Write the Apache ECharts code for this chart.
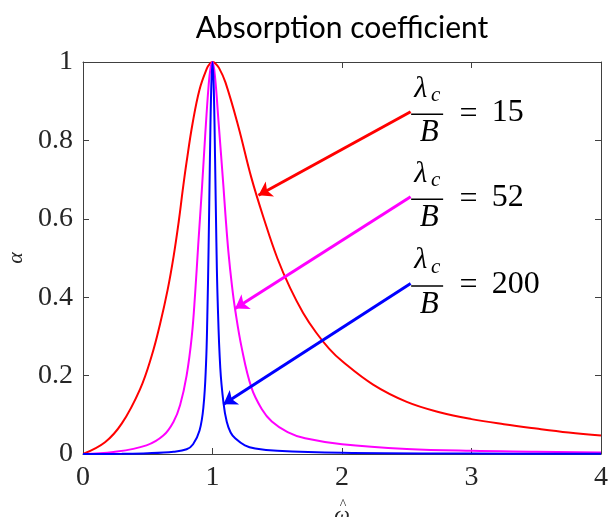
<!DOCTYPE html>
<html>
<head>
<meta charset="utf-8">
<script src="https://cdn.jsdelivr.net/npm/echarts@6/dist/echarts.min.js"></script>
<style>
  html, body { margin: 0; padding: 0; background: #fff; }
  #main { width: 616px; height: 517px; }
</style>
</head>
<body>
<div id="main"></div>
<script>
// values, [omega_hat, alpha]
const ratios = ['15', '52', '200'];
const colors = ['#ff0000', '#ff00ff', '#0000ff'];

const red15 = [
  [0, 0], [0.17, 0.03], [0.3, 0.078], [0.44, 0.165], [0.53, 0.25], [0.596, 0.333],
  [0.653, 0.418], [0.7, 0.505], [0.74, 0.595], [0.77, 0.673], [0.8, 0.745], [0.846, 0.843],
  [0.9, 0.93], [0.956, 0.983], [0.98, 0.996], [1.0, 1.0], [1.02, 0.997], [1.05, 0.985],
  [1.1, 0.948], [1.2, 0.835], [1.3, 0.705], [1.4, 0.597], [1.5, 0.5], [1.6, 0.423],
  [1.7, 0.36], [1.8, 0.31], [1.9, 0.269], [2.0, 0.237], [2.24, 0.177], [2.5, 0.133],
  [2.76, 0.106], [3.0, 0.089], [3.25, 0.076], [3.5, 0.065], [3.75, 0.055], [4.0, 0.047]
];
const magenta52 = [
  [0, 0], [0.237, 0.005], [0.49, 0.022], [0.62, 0.047], [0.7, 0.083], [0.75, 0.125],
  [0.8, 0.2], [0.84, 0.3], [0.866, 0.41], [0.89, 0.535], [0.918, 0.675], [0.943, 0.81],
  [0.97, 0.94], [0.985, 0.985], [1.0, 1.0], [1.02, 0.96], [1.046, 0.85], [1.085, 0.68],
  [1.1, 0.61], [1.123, 0.515], [1.15, 0.43], [1.175, 0.368], [1.226, 0.27], [1.3, 0.17],
  [1.38, 0.115], [1.458, 0.083], [1.58, 0.056], [1.715, 0.04], [2.0, 0.025], [2.5, 0.013],
  [3.0, 0.008], [3.5, 0.006], [4.0, 0.004]
];
const blue200 = [
  [0, 0], [0.3, 0.0006], [0.5, 0.002], [0.7, 0.006], [0.8, 0.012], [0.85, 0.025],
  [0.9, 0.06], [0.93, 0.12], [0.95, 0.23], [0.96, 0.35], [0.97, 0.53], [0.98, 0.75],
  [0.99, 0.93], [1.0, 1.0], [1.01, 0.93], [1.02, 0.75], [1.03, 0.54], [1.04, 0.39],
  [1.06, 0.22], [1.085, 0.13], [1.11, 0.082], [1.14, 0.055], [1.175, 0.04], [1.25, 0.022],
  [1.33, 0.014], [1.5, 0.008], [2.0, 0.003], [3.0, 0.001], [4.0, 0.0005]
];

// arrows: tail at the label, head on the curve
const arrowTails = [[2.53, 0.873], [2.53, 0.656], [2.53, 0.435]];
const arrowHeads = [[1.355, 0.66], [1.175, 0.371], [1.085, 0.127]];

const curves = [red15, magenta52, blue200];
const axisColor = '#404040';
const tickFont = { fontFamily: 'Liberation Serif', fontSize: 28, color: '#262626' };

const chart = echarts.init(document.getElementById('main'));

const boxAxis = {
  type: 'value',
  axisLine: { show: true, onZero: false, lineStyle: { color: axisColor, width: 1 } },
  axisTick: { inside: true, length: 6, lineStyle: { color: axisColor } },
  splitLine: { show: false }
};

chart.setOption({
  animation: false,
  backgroundColor: '#fff',
  grid: { left: 83, right: 15, top: 62, bottom: 63, containLabel: false, outerBoundsMode: 'none' },
  xAxis: [
    Object.assign({}, boxAxis, {
      min: 0, max: 4, interval: 1, position: 'bottom',
      axisLabel: Object.assign({ margin: 10 }, tickFont),
      name: 'ω', nameLocation: 'middle', nameGap: 50,
      nameTextStyle: { fontFamily: 'Liberation Serif', fontStyle: 'italic', fontSize: 22, color: '#262626' }
    }),
    Object.assign({}, boxAxis, {
      min: 0, max: 4, interval: 1, position: 'top', axisLabel: { show: false }
    })
  ],
  yAxis: [
    Object.assign({}, boxAxis, {
      min: 0, max: 1, interval: 0.2, position: 'left',
      axisLabel: Object.assign({ margin: 10 }, tickFont),
      name: 'α', nameLocation: 'middle', nameGap: 55, nameRotate: 90,
      nameTextStyle: { fontFamily: 'Liberation Serif', fontStyle: 'italic', fontSize: 22, color: '#262626' }
    }),
    Object.assign({}, boxAxis, {
      min: 0, max: 1, interval: 0.2, position: 'right', axisLabel: { show: false }
    })
  ],
  series: curves.map((d, i) => ({
    name: ratios[i],
    type: 'line',
    data: d,
    xAxisIndex: 0,
    yAxisIndex: 0,
    showSymbol: false,
    smooth: 0.4,
    lineStyle: { color: colors[i], width: 2 },
    itemStyle: { color: colors[i] },
    markLine: {
      silent: true,
      animation: false,
      symbol: ['none', 'arrow'],
      symbolSize: 13,
      label: { show: false },
      lineStyle: { color: colors[i], width: 3, type: 'solid' },
      data: [[{ coord: arrowTails[i] }, { coord: arrowHeads[i] }]]
    }
  }))
});

// title, the hat over omega and the lambda_c / B = N labels next to the arrow tails
const serif = 'Liberation Serif';
const graphics = [{
  type: 'text', x: 342, y: 28,
  style: { text: 'Absorption coefficient', font: '30px Lato', fill: '#000',
           align: 'center', verticalAlign: 'middle' }
}];
const xName = chart.convertToPixel({ xAxisIndex: 0 }, 2);
graphics.push({
  type: 'text', x: xName + 1, y: 505,
  style: { text: '^', font: '14px ' + serif, fill: '#262626', align: 'center', verticalAlign: 'middle' }
});
arrowTails.forEach((t, i) => {
  const p = chart.convertToPixel({ xAxisIndex: 0, yAxisIndex: 0 }, t);
  const x = p[0], y = p[1];
  graphics.push(
    { type: 'text', x: x + 10, y: y - 23,
      style: { text: 'λ', font: 'italic 30px ' + serif, fill: '#000', align: 'center', verticalAlign: 'middle' } },
    { type: 'text', x: x + 25, y: y - 16,
      style: { text: 'c', font: 'italic 21px ' + serif, fill: '#000', align: 'center', verticalAlign: 'middle' } },
    { type: 'line', shape: { x1: x + 0.5, y1: y + 2.5, x2: x + 32.5, y2: y + 2.5 },
      style: { stroke: '#000', lineWidth: 1.5 } },
    { type: 'text', x: x + 18.5, y: y + 21,
      style: { text: 'B', font: 'italic 31px ' + serif, fill: '#000', align: 'center', verticalAlign: 'middle' } },
    { type: 'text', x: x + 58, y: y + 2.5,
      style: { text: '=', font: '32px ' + serif, fill: '#000', align: 'center', verticalAlign: 'middle' } },
    { type: 'text', x: x + 81, y: y + 1,
      style: { text: ratios[i], font: '32px ' + serif, fill: '#000', align: 'left', verticalAlign: 'middle' } }
  );
});
chart.setOption({ graphic: graphics });
</script>
</body>
</html>
